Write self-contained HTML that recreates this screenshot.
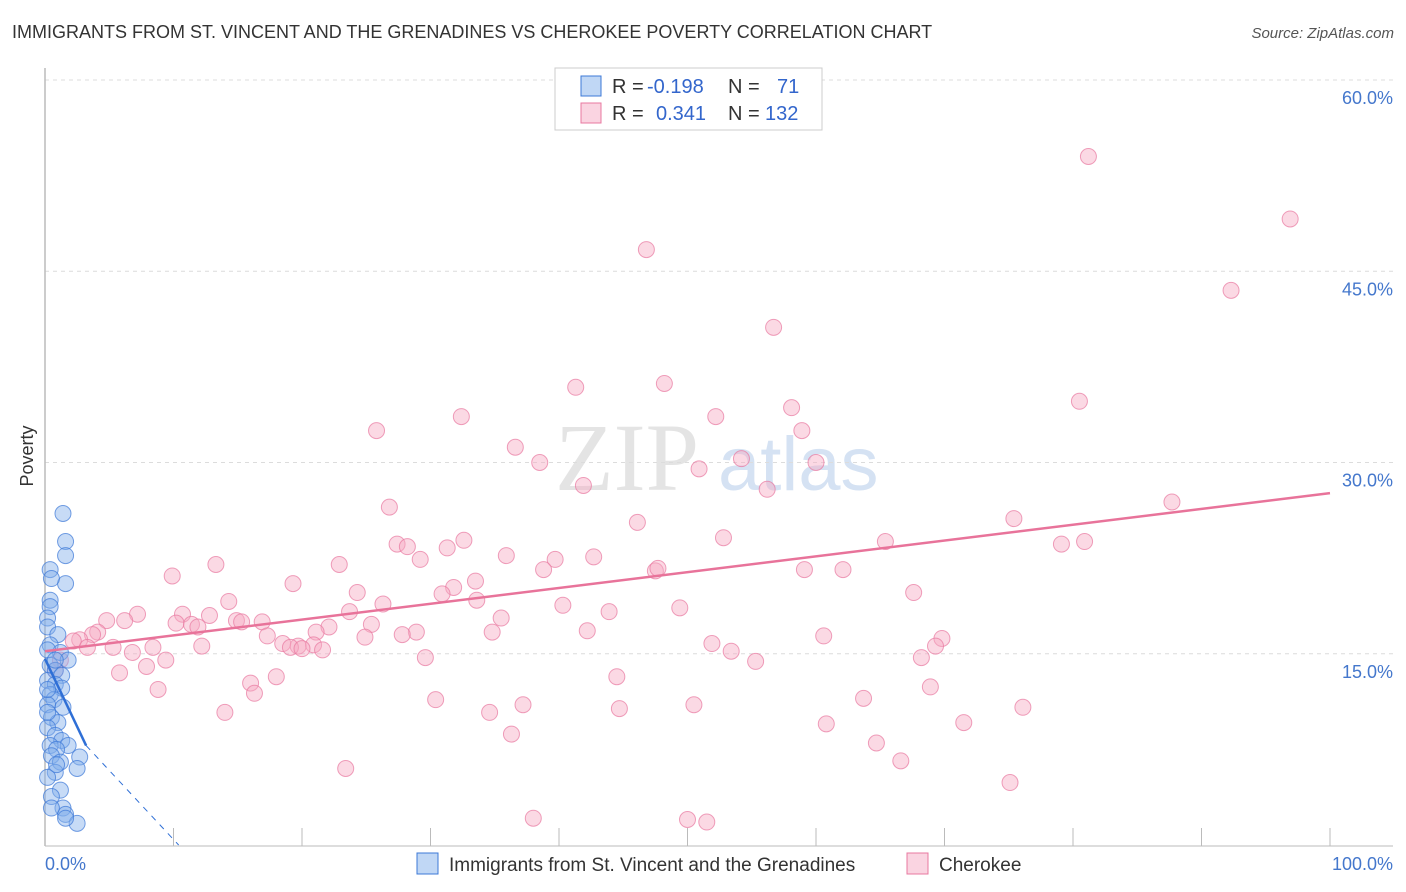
<!DOCTYPE html>
<html><head><meta charset="utf-8">
<style>
body{margin:0;background:#fff;font-family:"Liberation Sans",sans-serif;}
#wrap{position:relative;width:1406px;height:892px;overflow:hidden;}
.title{position:absolute;left:12px;top:22px;font-size:18px;color:#333;}
.source{position:absolute;right:12px;top:25px;font-size:15px;color:#555;font-style:italic;}
</style></head><body>
<div id="wrap">
<div class="title">IMMIGRANTS FROM ST. VINCENT AND THE GRENADINES VS CHEROKEE POVERTY CORRELATION CHART</div>
<div class="source">Source: ZipAtlas.com</div>
<svg id="chart" width="1406" height="892" style="position:absolute;left:0;top:0"></svg>
</div>
<script>
const yTicks=[15,30,45,60];
const yTickLabels=["15.0%","30.0%","45.0%","60.0%"];
const blueX=[1.4,1.6,1.6,1.6,0.4,0.5,0.4,0.4,0.2,0.2,1.0,0.4,1.2,1.8,0.4,0.8,1.3,0.2,0.8,1.3,0.4,0.7,0.2,1.4,0.5,1.0,0.2,0.8,1.3,0.4,1.8,0.9,0.5,1.2,2.7,2.5,0.8,0.2,1.2,0.5,1.4,1.6,2.5,0.5,0.2,0.2,0.8,0.2,0.9,1.6];
const blueY=[26.0,23.8,22.7,20.5,21.6,20.9,19.2,18.7,17.8,17.1,16.5,15.7,15.1,14.5,14.1,13.7,13.3,12.9,12.6,12.3,11.8,11.4,11.0,10.8,10.0,9.6,9.2,8.6,8.2,7.8,7.8,7.5,7.0,6.5,6.9,6.0,5.7,5.3,4.3,3.8,2.9,2.4,1.7,2.9,12.2,15.3,14.5,10.4,6.3,2.1];
const pinkX=[81.2,96.9,46.8,92.3,56.7,48.2,41.3,80.5,58.1,32.4,52.2,25.8,58.9,36.6,54.2,38.5,60.0,50.9,41.9,56.2,87.7,26.8,75.4,46.1,52.8,32.6,65.4,79.1,80.9,27.4,28.2,31.3,35.9,42.7,39.7,29.2,22.9,13.3,38.8,47.5,47.7,59.1,62.1,9.9,33.5,19.3,31.8,30.9,24.3,67.6,33.6,14.3,26.3,40.3,49.4,43.9,23.7,7.2,10.7,12.8,35.5,4.8,6.2,14.9,15.3,16.9,10.2,11.4,25.4,11.9,22.1,21.1,28.9,27.8,34.8,42.2,60.6,17.3,4.1,3.7,24.9,69.8,2.7,2.2,51.9,69.3,18.5,19.7,19.1,20.9,20.0,21.6,3.3,5.3,8.4,12.2,6.8,53.4,29.6,55.3,9.4,68.2,7.9,5.8,44.5,18.0,16.0,68.9,16.3,8.8,63.7,30.4,37.2,50.5,44.7,76.1,34.6,14.0,71.5,60.8,36.3,64.7,66.6,23.4,75.1,38.0,50.0,51.5,1.2,0.8];
const pinkY=[54.0,49.1,46.7,43.5,40.6,36.2,35.9,34.8,34.3,33.6,33.6,32.5,32.5,31.2,30.3,30.0,30.0,29.5,28.2,27.9,26.9,26.5,25.6,25.3,24.1,23.9,23.8,23.6,23.8,23.6,23.4,23.3,22.7,22.6,22.4,22.4,22.0,22.0,21.6,21.5,21.7,21.6,21.6,21.1,20.7,20.5,20.2,19.7,19.8,19.8,19.2,19.1,18.9,18.8,18.6,18.3,18.3,18.1,18.1,18.0,17.8,17.6,17.6,17.6,17.5,17.5,17.4,17.3,17.3,17.1,17.1,16.7,16.7,16.5,16.7,16.8,16.4,16.4,16.7,16.5,16.3,16.2,16.1,16.0,15.8,15.6,15.8,15.6,15.5,15.7,15.4,15.3,15.5,15.5,15.5,15.6,15.1,15.2,14.7,14.4,14.5,14.7,14.0,13.5,13.2,13.2,12.7,12.4,11.9,12.2,11.5,11.4,11.0,11.0,10.7,10.8,10.4,10.4,9.6,9.5,8.7,8.0,6.6,6.0,4.9,2.1,2.0,1.8,14.5,13.7];
const blueTrend=[0,14.6,3.2,7.8,7.2,0.8];
const pinkTrend=[0,15.2,100,27.6];

const NS="http://www.w3.org/2000/svg";
const svg=document.getElementById('chart');
const X0=45,X1=1330,Y0=845,PER=12.75;
const sx=v=>X0+(X1-X0)*v/100;
const sy=v=>Y0-v*PER;
function mk(tag,attrs){const e=document.createElementNS(NS,tag);for(const k in attrs)e.setAttribute(k,attrs[k]);svg.appendChild(e);return e;}

// watermark
let wm=mk('text',{x:555,y:490,'font-size':96,fill:'#e4e4e4','font-family':'Liberation Serif, serif'});wm.textContent='ZIP';


let wm2=mk('text',{x:718,y:490,'font-size':76,fill:'#d5e2f3','font-family':'Liberation Sans, sans-serif'});wm2.textContent='atlas';



// grid
yTicks.forEach((t,i)=>{
 const g=mk('line',{x1:X0,x2:1393,y1:sy(t),y2:sy(t),stroke:'#dcdcdc','stroke-dasharray':'4,4'});
 
 
 const l=mk('text',{x:1393,y:sy(t)+24,'text-anchor':'end','font-size':18,fill:'#4477cc'});l.textContent=yTickLabels[i];
 
 
});
let topg=mk('line',{x1:X0,x2:1393,y1:80,y2:80,stroke:'#dcdcdc','stroke-dasharray':'4,4'});
// axes
let ya=mk('line',{x1:X0,x2:X0,y1:68,y2:846,stroke:'#bbb','stroke-width':1.5});


let xa=mk('line',{x1:X0,x2:1393,y1:846,y2:846,stroke:'#bbb','stroke-width':1});


for(let t=10;t<=100;t+=10){const tk=mk('line',{x1:sx(t),x2:sx(t),y1:828,y2:846,stroke:'#bbb'});
 
 }
let xl0=mk('text',{x:45,y:870,'font-size':18,fill:'#4477cc'});xl0.textContent='0.0%';


let xl1=mk('text',{x:1393,y:870,'text-anchor':'end','font-size':18,fill:'#4477cc'});xl1.textContent='100.0%';


let yt=mk('text',{x:33,y:456,'font-size':18,fill:'#333','text-anchor':'middle',transform:'rotate(-90 33 456)'});yt.textContent='Poverty';



// points
pinkX.forEach((v,i)=>{const c=mk('circle',{cx:sx(v),cy:sy(pinkY[i]),r:8,fill:'rgba(246,170,195,0.45)',stroke:'rgba(232,120,160,0.7)','stroke-width':1});
 
 });
blueX.forEach((v,i)=>{const c=mk('circle',{cx:sx(v),cy:sy(blueY[i]),r:8,fill:'rgba(130,175,235,0.45)',stroke:'rgba(60,120,215,0.7)','stroke-width':1});
 
 });

// trends
let pt=mk('line',{x1:sx(pinkTrend[0]),y1:sy(pinkTrend[1]),x2:sx(pinkTrend[2]),y2:sy(pinkTrend[3]),stroke:'#e8739a','stroke-width':2.5});


let bt=mk('line',{x1:sx(blueTrend[0]),y1:sy(blueTrend[1]),x2:sx(blueTrend[2]),y2:sy(blueTrend[3]),stroke:'#2f6fd6','stroke-width':2.5});


let bd=mk('line',{x1:sx(blueTrend[2]),y1:sy(blueTrend[3]),x2:sx(blueTrend[4]+3.2),y2:sy(blueTrend[5]-0.8),stroke:'#2f6fd6','stroke-width':1,'stroke-dasharray':'6,6'});



// top legend
let lb=mk('rect',{x:555,y:68,width:267,height:62,fill:'#fff',stroke:'#ccc'});


[['rgba(130,175,235,0.5)','#3c78d7','-0.198','71',86],['rgba(246,170,195,0.5)','#e878a0','0.341','132',113]].forEach(r=>{
 const s=mk('rect',{x:581,y:r[4]-10,width:20,height:20,fill:r[0],stroke:r[1]});
 
 
 const t=mk('text',{x:612,y:r[4]+7,'font-size':20,fill:'#333'});
 t.innerHTML='R = <tspan fill="#3366cc" x="'+(r[2][0]=='-'?647:656)+'">'+r[2]+'</tspan><tspan x="728">N =</tspan><tspan fill="#3366cc" x="'+(r[3].length==2?777:765)+'">'+r[3]+'</tspan>';
 
 
});

// bottom legend
[[417,'rgba(130,175,235,0.5)','#3c78d7','Immigrants from St. Vincent and the Grenadines',449],[907,'rgba(246,170,195,0.5)','#e878a0','Cherokee',939]].forEach(r=>{
 const s=mk('rect',{x:r[0],y:853,width:21,height:21,fill:r[1],stroke:r[2]});
 
 
 const t=mk('text',{x:r[4],y:871,'font-size':19,fill:'#333'});t.textContent=r[3];
 
 
});
</script>
</body></html>
